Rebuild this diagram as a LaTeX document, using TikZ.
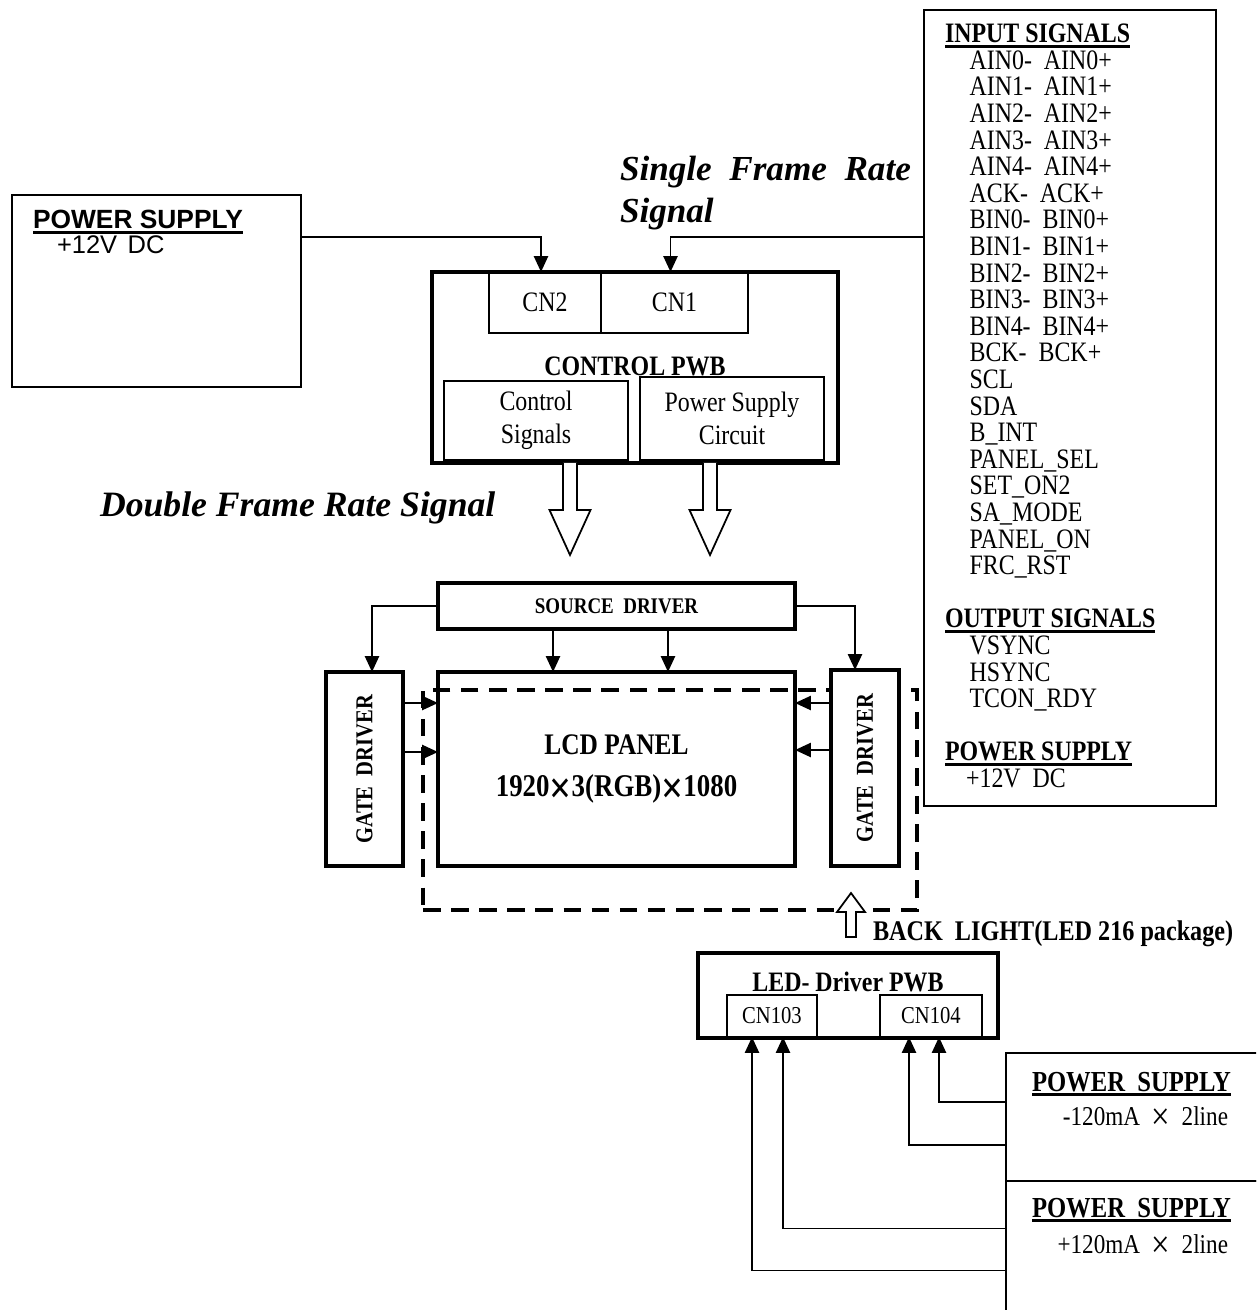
\documentclass[tikz,border=0pt]{standalone}
\usepackage{fontspec}
\setmainfont{Liberation Serif}[FakeStretch=0.85]
\newfontfamily\plainserif{Liberation Serif}
\newfontfamily\arialfont{Liberation Sans}
\usetikzlibrary{arrows.meta}

% bold text with a heavy underline
\newcommand{\ulbf}[1]{\setbox0=\hbox{\bfseries #1}\rlap{\rule[-2.8pt]{\wd0}{1.5pt}}\box0}
\newcommand{\sigind}{\hspace*{14pt}}
% large multiplication sign (size, drop)
\newcommand{\crossx}[2]{\raisebox{-#2}{\fontsize{#1}{#1}\selectfont ×}}

\begin{document}
\begin{tikzpicture}[
    x=0.02cm, y=-0.02cm,
    every node/.style={inner sep=0pt, outer sep=0pt, font=\fontsize{16}{19}\selectfont},
    wh/.style 2 args={minimum width=#1*0.02cm, minimum height=#2*0.02cm},
    board/.style={draw, line width=2.4pt},
    part/.style={draw, line width=1pt},
    frame/.style={draw, line width=1.3pt},
    arrow/.style={
        -{Triangle[length=9pt,width=8pt]},
        line width=1.1pt
    },
    bigdown/.pic={
        \draw[line width=1pt, fill=white] (-7,0) -- (-7,47) -- (-20.5,47) -- (0,92)
            -- (20.5,47) -- (7,47) -- (7,0);
    },
    bigup/.pic={
        \draw[line width=1pt, fill=white] (-5,0) -- (-5,-25) -- (-14,-25) -- (0,-44)
            -- (14,-25) -- (5,-25) -- (5,0) -- cycle;
    }
]
\clip (0,0) rectangle (1256,1310);

% power supply (left)
\node[frame, wh={289}{192}] (psL) at (156.5,291) {};
\node[anchor=base west, font=\arialfont\fontsize{15}{17}\selectfont] (psLt) at (33,229) {\ulbf{POWER SUPPLY}};
\node[anchor=base west, font=\arialfont\fontsize{14.5}{17}\selectfont] (psLv) at (57,254) {+12V\hspace{6pt}DC};

% control pwb
\node[board, wh={406}{191}] (ctrl) at (635,367.5) {};
\node[part, wh={112}{61}] (cn2) at (545,302.5) {CN2};
\node[part, wh={147}{61}] (cn1) at (674.5,302.5) {CN1};
\node[font=\bfseries\fontsize{16}{19}\selectfont] (ctrlt) at (635,366) {CONTROL PWB};
\node[part, wh={184}{79}, align=center] (csig) at (536,420.5) {Control\\Signals};
\node[part, wh={184}{83}, align=center] (pscirc) at (732,418.5) {Power Supply\\Circuit};

\node[anchor=west, align=left, font=\plainserif\bfseries\itshape\fontsize{20}{24}\selectfont] (sfr) at (620,193) {Single\ \ Frame\ \ Rate\\Signal};
\node[anchor=base west, font=\plainserif\bfseries\itshape\fontsize{20.3}{24}\selectfont] (dfr) at (100,516) {Double Frame Rate Signal};

% signal list
\node[frame, wh={292}{796}] (inbox) at (1070,408) {};
\node[anchor=north west, align=left, font=\fontsize{16}{15.14}\selectfont] (inlist) at (945,24) {%
\ulbf{INPUT SIGNALS}\\
\sigind AIN0-\ \ AIN0+\\
\sigind AIN1-\ \ AIN1+\\
\sigind AIN2-\ \ AIN2+\\
\sigind AIN3-\ \ AIN3+\\
\sigind AIN4-\ \ AIN4+\\
\sigind ACK-\ \ ACK+\\
\sigind BIN0-\ \ BIN0+\\
\sigind BIN1-\ \ BIN1+\\
\sigind BIN2-\ \ BIN2+\\
\sigind BIN3-\ \ BIN3+\\
\sigind BIN4-\ \ BIN4+\\
\sigind BCK-\ \ BCK+\\
\sigind SCL\\
\sigind SDA\\
\sigind B\_INT\\
\sigind PANEL\_SEL\\
\sigind SET\_ON2\\
\sigind SA\_MODE\\
\sigind PANEL\_ON\\
\sigind FRC\_RST\\[15.14pt]
\ulbf{OUTPUT SIGNALS}\\
\sigind VSYNC\\
\sigind HSYNC\\
\sigind TCON\_RDY\\[15.14pt]
\ulbf{POWER SUPPLY}\\
\hspace*{12pt}+12V\ \ DC};

\coordinate (rail) at (0,237);
\draw[arrow] (psL.east |- rail) -| ([xshift=-0.08cm]cn2.north);
\draw[arrow] (inbox.west |- rail) -| ([xshift=-0.08cm]cn1.north);

\pic at (570,463) {bigdown};
\pic at (710,463) {bigdown};

% panel area
\node[board, wh={357}{46}, font=\bfseries\fontsize{12.7}{15}\selectfont] (src) at (616.5,606) {SOURCE\ \ DRIVER};
\node[draw, line width=2.3pt, dash pattern=on 10pt off 6pt, wh={494}{220}] (bklt) at (670,800) {};
\node[board, wh={357}{194}, align=center, font=\bfseries\fontsize{17}{24}\selectfont] (lcd) at (616.5,769) {LCD PANEL\\{\fontsize{18}{24}\selectfont 1920\crossx{26}{3.8pt}3(RGB)\crossx{26}{3.8pt}1080}};
\node[board, fill=white, wh={77}{194}] (gdL) at (364.5,769) {};
\node[board, fill=white, wh={68}{196}] (gdR) at (865,768) {};
\node[rotate=90, font=\bfseries\fontsize{13.8}{16}\selectfont] (gdLt) at (gdL) {GATE\ \ DRIVER};
\node[rotate=90, font=\bfseries\fontsize{13.8}{16}\selectfont] (gdRt) at (gdR) {GATE\ \ DRIVER};

\draw[arrow] (src.west) -| ([xshift=0.15cm]gdL.north);
\draw[arrow] (src.east) -| ([xshift=-0.2cm]gdR.north);
\draw[arrow] ([xshift=-1.27cm]src.south) -- ([xshift=-1.27cm]lcd.north);
\draw[arrow] ([xshift=1.03cm]src.south) -- ([xshift=1.03cm]lcd.north);
\draw[arrow] ([yshift=1.32cm]gdL.east) -- ([yshift=1.32cm]lcd.west);
\draw[arrow] ([yshift=0.34cm]gdL.east) -- ([yshift=0.34cm]lcd.west);
\draw[arrow] ([yshift=1.32cm]lcd.east -| gdR.west) -- ([yshift=1.32cm]lcd.east);
\draw[arrow] ([yshift=0.38cm]lcd.east -| gdR.west) -- ([yshift=0.38cm]lcd.east);

% back light
\pic at (851,937) {bigup};
\node[anchor=base west, font=\bfseries\fontsize{16.2}{19}\selectfont] (bltxt) at (873,940) {BACK\ \ LIGHT(LED 216 package)};

\node[board, wh={300}{85}] (led) at (848,995.5) {};
\node[font=\bfseries\fontsize{16}{19}\selectfont] (ledt) at (848,982) {LED- Driver PWB};
\node[part, wh={90}{42}, font=\fontsize{13.8}{16}\selectfont] (cn103) at (772,1016) {CN103};
\node[part, wh={102}{42}, font=\fontsize{13.8}{16}\selectfont] (cn104) at (931,1016) {CN104};

% led power supplies
\node[frame, wh={290}{128}] (psA) at (1151,1117) {};
\node[frame, wh={290}{160}] (psB) at (1151,1261) {};
\node[anchor=base west, font=\fontsize{16.5}{19}\selectfont] (psAt) at (1032,1091) {\ulbf{POWER\ \ SUPPLY}};
\node[anchor=base east, font=\fontsize{15.5}{18}\selectfont] (psAv) at (1228,1125) {-120mA\ \ \crossx{22}{2.6pt}\ \ 2line};
\node[anchor=base west, font=\fontsize{16.5}{19}\selectfont] (psBt) at (1032,1217) {\ulbf{POWER\ \ SUPPLY}};
\node[anchor=base east, font=\fontsize{15.5}{18}\selectfont] (psBv) at (1228,1253) {+120mA\ \ \crossx{22}{2.6pt}\ \ 2line};

\draw[arrow] ([yshift=0.3cm]psA.west) -| ([xshift=0.16cm]cn104.south);
\draw[arrow] ([yshift=-0.56cm]psA.west) -| ([xshift=-0.44cm]cn104.south);
\draw[arrow] ([yshift=0.65cm]psB.west) -| ([xshift=0.22cm]cn103.south);
\draw[arrow] ([yshift=-0.19cm]psB.west) -| ([xshift=-0.4cm]cn103.south);

\end{tikzpicture}
\end{document}
